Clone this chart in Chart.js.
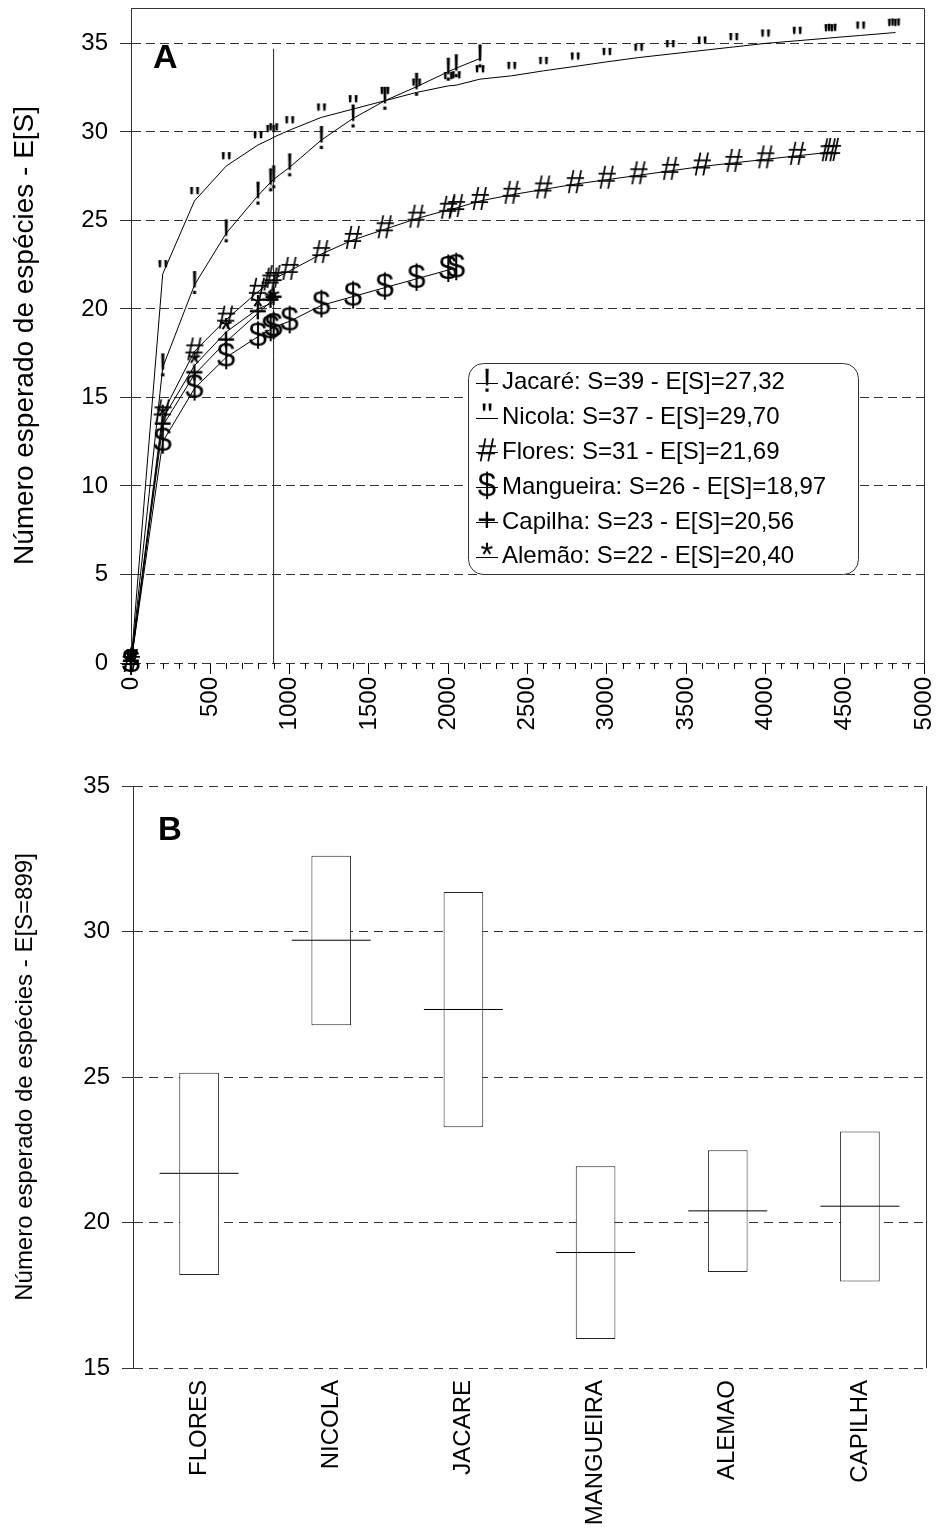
<!DOCTYPE html>
<html>
<head>
<meta charset="utf-8">
<script src="https://cdn.jsdelivr.net/npm/chart.js@4"></script>
<style>
body { margin: 0; background: #fff; }
canvas { display: block; }
</style>
</head>
<body>
<canvas id="rarefactionChart" width="940" height="745"></canvas>
<canvas id="standardChart" width="940" height="783"></canvas>
<script>
//---------------data, panel A (rarefaction curves)
const sampleSizes = [0, 200, 400, 600, 800, 880, 899, 1000, 1200, 1400, 1600, 1800, 2000, 2050, 2200,
  2400, 2600, 2800, 3000, 3200, 3400, 3600, 3800, 4000, 4200, 4400, 4420, 4600, 4800, 4820];
const jacareES = [0, 16.7, 21.35, 24.27, 26.4, 27.15, 27.32, 28.0, 29.54, 30.76, 31.76, 32.55, 33.4, 33.6, 34.15];
const nicolaES = [0, 21.97, 26.1, 28.07, 29.26, 29.6, 29.70, 30.1, 30.82, 31.29, 31.76, 32.23, 32.6, 32.64, 32.98,
  33.17, 33.45, 33.7, 33.96, 34.2, 34.4, 34.6, 34.8, 35.0, 35.15, 35.3, 35.32, 35.45, 35.6, 35.62];
const floresES = [0, 14.1, 17.6, 19.4, 20.97, 21.55, 21.69, 22.15, 23.1, 23.9, 24.5, 25.1, 25.6, 25.7, 26.1,
  26.45, 26.75, 27.05, 27.3, 27.55, 27.8, 28.05, 28.25, 28.45, 28.65, 28.85, 28.87];
const mangueiraES = [0, 12.5, 15.5, 17.27, 18.43, 18.85, 18.97, 19.3, 20.2, 20.7, 21.2, 21.7, 22.2, 22.3];
const capilhaES = [0, 13.4, 16.3, 18.15, 19.75, 20.4, 20.56];
const alemaoES = [0, 13.8, 16.8, 18.7, 20.0, 20.3, 20.40];
const refSize = 899;
const refLineTop = 34.7;
const xTicksA = [0, 500, 1000, 1500, 2000, 2500, 3000, 3500, 4000, 4500, 5000];
const yTicksA = [0, 5, 10, 15, 20, 25, 30, 35];

const legendNames = ['Jacaré', 'Nicola', 'Flores', 'Mangueira', 'Capilha', 'Alemão'];
const legendS = [39, 37, 31, 26, 23, 22];
const legendES = ['27,32', '29,70', '21,69', '18,97', '20,56', '20,40'];
const markers = ['!', '"', '#', '$', '+', '*'];

//---------------data, panel B (E[S=899])
const sitesB = ['FLORES', 'NICOLA', 'JACARE', 'MANGUEIRA', 'ALEMAO', 'CAPILHA'];
const lowB = [18.2, 26.78, 23.27, 16.0, 18.3, 17.97];
const highB = [25.15, 32.6, 31.36, 21.93, 22.48, 23.13];
const meanB = [21.69, 29.70, 27.32, 18.97, 20.40, 20.56];
const yTicksB = [15, 20, 25, 30, 35];

const FONT = "'Liberation Sans', Arial, sans-serif";
Chart.defaults.font.family = FONT;
Chart.defaults.color = '#000';

// text glyph used as point marker
function glyph(ch) {
  const c = document.createElement('canvas');
  c.width = 36; c.height = 46;
  const g = c.getContext('2d');
  g.font = '33px ' + FONT;
  g.textAlign = 'center';
  g.textBaseline = 'middle';
  g.fillStyle = '#000';
  g.fillText(ch, 18, 23);
  return c;
}
const glyphs = markers.map(glyph);

// no extra padding from the axes, the plot area is fixed
function fixSize(w, h) {
  return s => {
    if (w) s.width = w;
    if (h) s.height = h;
    s.paddingTop = s.paddingBottom = s.paddingLeft = s.paddingRight = 0;
  };
}

const seriesES = [jacareES, nicolaES, floresES, mangueiraES, capilhaES, alemaoES];
const curveSets = seriesES.map((vals, i) => ({
  label: legendNames[i],
  data: vals.map((v, k) => ({x: sampleSizes[k], y: v})),
  showLine: true,
  borderColor: '#000',
  borderWidth: 1,
  pointStyle: glyphs[i],
  pointRadius: 3,
  clip: false
}));
curveSets.push({
  label: 'ref',
  data: [{x: refSize, y: 0}, {x: refSize, y: refLineTop}],
  showLine: true,
  borderColor: '#222',
  borderWidth: 1,
  pointRadius: 0
});

//---------------plugins
const frameA = {
  id: 'frameA',
  afterDraw(chart) {
    const {ctx, chartArea: a} = chart;
    const xs = chart.scales.x;
    ctx.save();
    ctx.strokeStyle = '#333';
    ctx.lineWidth = 1;
    ctx.beginPath();
    ctx.moveTo(Math.round(a.left) + 0.5, Math.round(a.top) + 0.5);
    ctx.lineTo(Math.round(a.right) + 0.5, Math.round(a.top) + 0.5);
    ctx.lineTo(Math.round(a.right) + 0.5, Math.round(a.bottom) + 0.5);
    ctx.stroke();
    // minor ticks
    ctx.strokeStyle = '#000';
    ctx.beginPath();
    for (let v = 100; v < 5000; v += 100) {
      if (v % 500 === 0) continue;
      const px = Math.round(xs.getPixelForValue(v)) + 0.5;
      ctx.moveTo(px, a.bottom);
      ctx.lineTo(px, a.bottom + 6);
    }
    ctx.stroke();
    // panel letter
    ctx.fillStyle = '#000';
    ctx.font = 'bold 34px ' + FONT;
    ctx.fillText('A', 153, 68);
    // legend
    const bx = 468.5, by = 363.5, bw = 390, bh = 211, r = 15;
    ctx.beginPath();
    ctx.moveTo(bx + r, by);
    ctx.arcTo(bx + bw, by, bx + bw, by + bh, r);
    ctx.arcTo(bx + bw, by + bh, bx, by + bh, r);
    ctx.arcTo(bx, by + bh, bx, by, r);
    ctx.arcTo(bx, by, bx + bw, by, r);
    ctx.closePath();
    ctx.fillStyle = '#fff';
    ctx.fill();
    ctx.strokeStyle = '#333';
    ctx.stroke();
    ctx.font = '24px ' + FONT;
    ctx.textBaseline = 'middle';
    ctx.fillStyle = '#000';
    legendNames.forEach((name, i) => {
      const y = 382.7 + i * 34.8;
      ctx.fillRect(476, Math.round(y), 22, 1);
      ctx.drawImage(glyphs[i], 487 - 18, y - 23);
      ctx.fillText(name + ': S=' + legendS[i] + ' - E[S]=' + legendES[i], 502, y);
    });
    ctx.restore();
  }
};

const frameB = {
  id: 'frameB',
  afterDraw(chart) {
    const {ctx, chartArea: a} = chart;
    ctx.save();
    ctx.strokeStyle = '#333';
    ctx.lineWidth = 1;
    ctx.beginPath();
    ctx.moveTo(Math.round(a.right) + 0.5, a.top);
    ctx.lineTo(Math.round(a.right) + 0.5, a.bottom);
    ctx.stroke();
    ctx.fillStyle = '#000';
    ctx.font = 'bold 33px ' + FONT;
    ctx.fillText('B', 158, 95);
    ctx.restore();
  }
};

//---------------Panel A
new Chart(
  document.getElementById('rarefactionChart'), {
    type: 'scatter',
    data: {datasets: curveSets},
    plugins: [frameA],
    options: {
      responsive: false,
      devicePixelRatio: 1,
      animation: false,
      layout: {autoPadding: false, padding: {top: 8, right: 16, left: 0, bottom: 0}},
      plugins: {legend: {display: false}, tooltip: {enabled: false}},
      scales: {
        x: {
          type: 'linear',
          min: 0,
          max: 5000,
          afterBuildTicks: s => { s.ticks = xTicksA.map(v => ({value: v})); },
          afterFit: fixSize(0, 82),
          ticks: {
            autoSkip: false,
            maxRotation: 90,
            minRotation: 90,
            padding: 3,
            font: {size: 24},
            callback: v => String(v)
          },
          grid: {drawOnChartArea: false, tickLength: 11, color: '#000'},
          border: {display: false}
        },
        y: {
          min: 0,
          max: 37,
          afterBuildTicks: s => { s.ticks = yTicksA.map(v => ({value: v})); },
          afterFit: fixSize(131, 0),
          ticks: {padding: 12, font: {size: 24}, callback: v => String(v)},
          grid: {color: '#333', tickLength: 11},
          border: {display: true, color: '#333', dash: [9, 5]},
          title: {
            display: true,
            text: 'Número esperado de espécies - E[S]',
            font: {size: 28},
            padding: {top: 8, bottom: 0}
          }
        }
      }
    }
  }
);

//---------------Panel B
new Chart(
  document.getElementById('standardChart'), {
    type: 'bar',
    data: {
      labels: sitesB,
      datasets: [{
        type: 'line',
        label: 'E[S=899]',
        data: meanB,
        showLine: false,
        pointStyle: 'line',
        pointRadius: 39.5,
        pointBorderWidth: 1,
        pointBorderColor: '#000',
        borderColor: '#000',
        order: 0
      }, {
        type: 'bar',
        label: 'range',
        data: sitesB.map((s, i) => [lowB[i], highB[i]]),
        backgroundColor: '#fff',
        borderColor: '#222',
        borderWidth: 1,
        borderSkipped: false,
        categoryPercentage: 1,
        barPercentage: 0.3,
        order: 1
      }]
    },
    plugins: [frameB],
    options: {
      responsive: false,
      devicePixelRatio: 1,
      animation: false,
      layout: {autoPadding: false, padding: {top: 41, right: 14, left: 0, bottom: 0}},
      plugins: {legend: {display: false}, tooltip: {enabled: false}},
      scales: {
        x: {
          afterFit: fixSize(0, 160),
          ticks: {autoSkip: false, maxRotation: 90, minRotation: 90, padding: 12, font: {size: 24}},
          grid: {display: false, drawTicks: false},
          border: {display: false}
        },
        y: {
          min: 15,
          max: 35,
          afterBuildTicks: s => { s.ticks = yTicksB.map(v => ({value: v})); },
          afterFit: fixSize(133, 0),
          ticks: {padding: 12, font: {size: 24}, callback: v => String(v)},
          grid: {color: '#333', tickLength: 11},
          border: {display: true, color: '#333', dash: [9, 6]},
          title: {
            display: true,
            text: 'Número esperado de espécies - E[S=899]',
            font: {size: 24},
            padding: {top: 11, bottom: 0}
          }
        }
      }
    }
  }
);
</script>
</body>
</html>
